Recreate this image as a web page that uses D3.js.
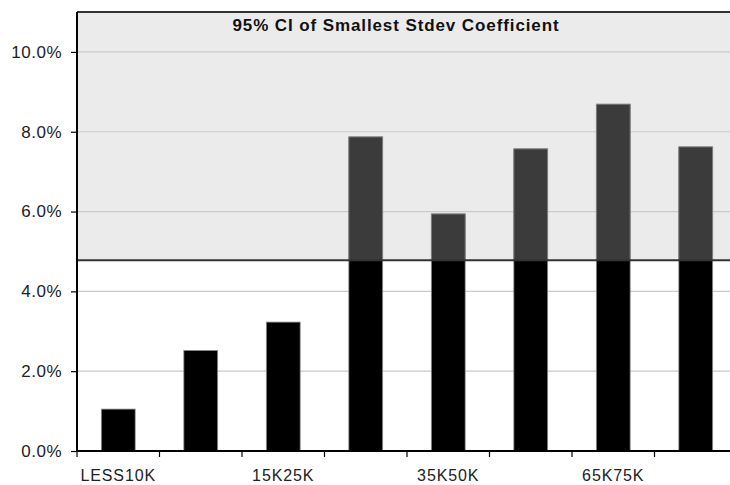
<!DOCTYPE html>
<html>
<head>
<meta charset="utf-8">
<script src="https://cdn.jsdelivr.net/npm/d3@7"></script>
<style>
  body { margin: 0; background: #fff; }
  text { font-family: "Liberation Sans", Arial, sans-serif; }
</style>
</head>
<body>
<div id="chart"></div>
<script>
const categories = ["LESS10K", "10K15K", "15K25K", "25K35K", "35K50K", "50K65K", "65K75K", "75KPLUS"];
const values = [1.05, 2.52, 3.23, 7.87, 5.94, 7.57, 8.69, 7.62];
const yTicks = [0, 2, 4, 6, 8, 10];
const ciLower = 4.78;
const chartTitle = "95% CI of Smallest Stdev Coefficient";

const width = 730, height = 485;
const plotLeft = 77, plotRight = 737, plotTop = 12, plotBottom = 451;

const svg = d3.select('#chart').append('svg')
  .attr('width', width)
  .attr('height', height);

const x = d3.scaleBand().domain(categories).range([plotLeft, plotRight])
  .paddingInner(0.59).paddingOuter(0.295);
const y = d3.scaleLinear().domain([0, 11]).range([plotBottom, plotTop]);

// shaded CI region
svg.append('rect')
  .attr('x', plotLeft).attr('y', y(11))
  .attr('width', plotRight - plotLeft).attr('height', y(ciLower) - y(11))
  .attr('fill', '#ebebeb');

// gridlines
svg.selectAll('line.grid')
  .data(yTicks.filter(d => d > 0))
  .enter().append('line')
    .attr('class', 'grid')
    .attr('x1', plotLeft).attr('x2', plotRight)
    .attr('y1', d => y(d)).attr('y2', d => y(d))
    .attr('stroke', '#cacaca')
    .attr('stroke-width', 1.2);

// bars
svg.selectAll('rect.bar')
  .data(values)
  .enter().append('rect')
    .attr('class', 'bar')
    .attr('x', (d, i) => x(categories[i]))
    .attr('y', d => y(d))
    .attr('width', x.bandwidth())
    .attr('height', d => y(0) - y(d))
    .attr('fill', '#000')
    .attr('stroke', '#8c8c8c')
    .attr('stroke-width', 0.8);

// part of bars inside the shaded region is dark gray
svg.append('clipPath').attr('id', 'ci-clip')
  .append('rect')
    .attr('x', plotLeft).attr('y', y(11))
    .attr('width', plotRight - plotLeft).attr('height', y(ciLower) - y(11));

svg.append('g').attr('clip-path', 'url(#ci-clip)')
  .selectAll('rect')
  .data(values)
  .enter().append('rect')
    .attr('x', (d, i) => x(categories[i]))
    .attr('y', d => y(d))
    .attr('width', x.bandwidth())
    .attr('height', d => y(0) - y(d))
    .attr('fill', '#3b3b3b')
    .attr('stroke', '#8c8c8c')
    .attr('stroke-width', 0.8);

// shaded region borders
[11, ciLower].forEach(v => {
  svg.append('line')
    .attr('x1', plotLeft).attr('x2', plotRight)
    .attr('y1', y(v)).attr('y2', y(v))
    .attr('stroke', '#333')
    .attr('stroke-width', 2);
});

// y axis
const yAxis = svg.append('g')
  .attr('transform', `translate(${plotLeft},0)`)
  .call(d3.axisLeft(y).tickValues(yTicks).tickSize(6).tickPadding(9)
    .tickFormat(d => d.toFixed(1) + '%'));
yAxis.select('.domain').remove();
yAxis.selectAll('.tick line').attr('stroke', '#000').attr('stroke-width', 1.2);
yAxis.selectAll('.tick text')
  .attr('font-size', 17).attr('fill', '#222')
  .attr('letter-spacing', '0.5px')
  .style('font-family', '"Liberation Sans", Arial, sans-serif');
svg.append('line')
  .attr('x1', plotLeft).attr('x2', plotLeft)
  .attr('y1', plotTop).attr('y2', plotBottom)
  .attr('stroke', '#000').attr('stroke-width', 2);

// x axis
const xAxis = svg.append('g')
  .attr('transform', `translate(0,${plotBottom})`)
  .call(d3.axisBottom(x).tickSize(0).tickPadding(18.5)
    .tickFormat((d, i) => i % 2 === 0 ? d : ''));
xAxis.select('.domain').remove();
xAxis.selectAll('.tick text')
  .attr('font-size', 16).attr('fill', '#222')
  .attr('letter-spacing', '0.9px')
  .style('font-family', '"Liberation Sans", Arial, sans-serif');
svg.append('line')
  .attr('x1', plotLeft).attr('x2', plotRight)
  .attr('y1', plotBottom).attr('y2', plotBottom)
  .attr('stroke', '#000').attr('stroke-width', 2);
svg.selectAll('line.xtick')
  .data(categories)
  .enter().append('line')
    .attr('class', 'xtick')
    .attr('x1', d => x(d) - x.step() * x.paddingOuter())
    .attr('x2', d => x(d) - x.step() * x.paddingOuter())
    .attr('y1', plotBottom).attr('y2', plotBottom + 6)
    .attr('stroke', '#000').attr('stroke-width', 1.2);

// title
svg.append('text')
  .attr('x', 396).attr('y', 30.5)
  .attr('text-anchor', 'middle')
  .attr('font-size', 17)
  .attr('font-weight', 'bold')
  .attr('letter-spacing', '0.9px')
  .attr('fill', '#111')
  .text(chartTitle);
</script>
</body>
</html>
